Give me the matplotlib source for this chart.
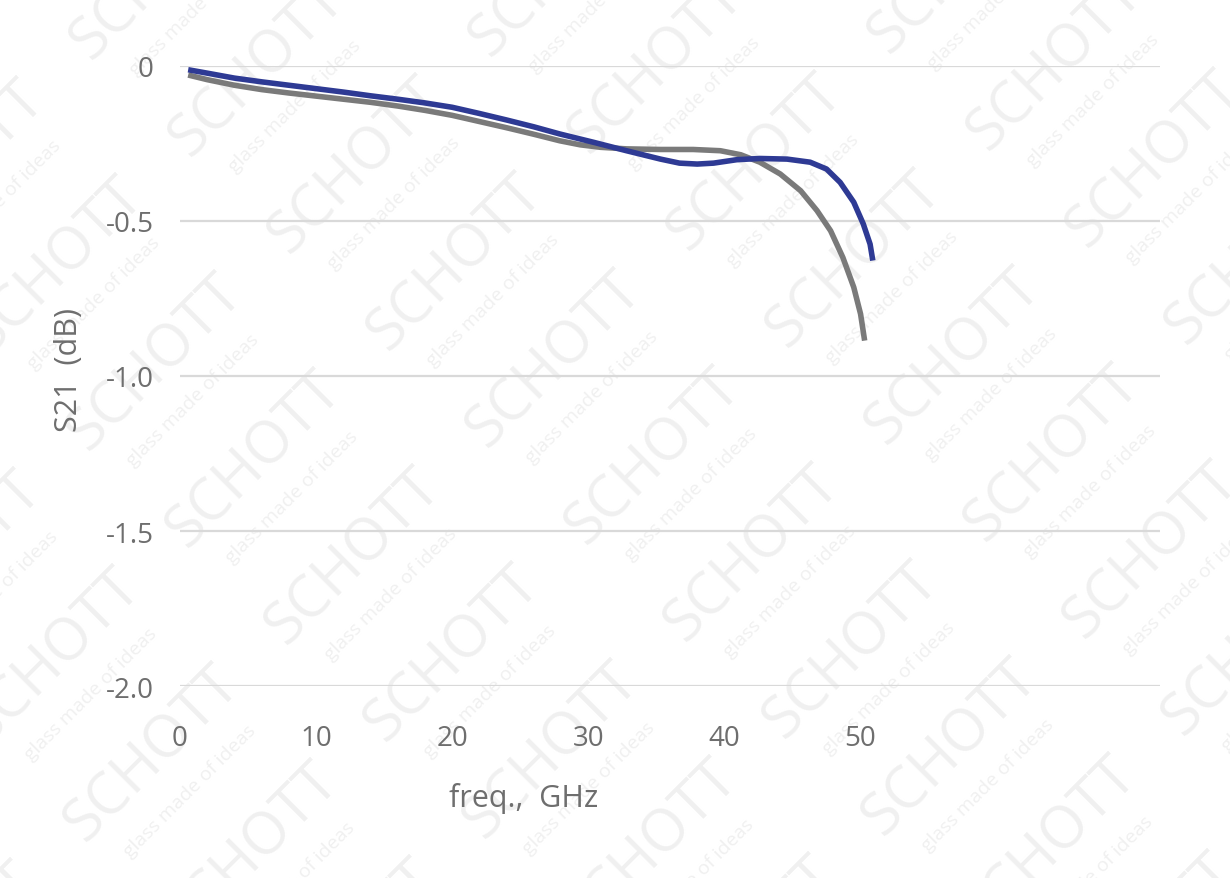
import matplotlib
matplotlib.use("Agg")
import matplotlib.pyplot as plt

# ---------------- data ----------------
x_ticks = [0, 10, 20, 30, 40, 50]
y_ticks = [0, -0.5, -1.0, -1.5, -2.0]
y_tick_labels = ["0", "-0.5", "-1.0", "-1.5", "-2.0"]

blue_freq = [0.6, 2.0, 4.0, 6.0, 8.0, 10.0, 12.0, 14.0, 16.0, 18.0, 20.0,
             22.0, 24.0, 26.0, 27.9, 30.4, 32.8, 35.3, 36.7, 38.0, 39.2,
             40.9, 42.6, 44.6, 46.3, 47.5, 48.5, 49.5, 50.2, 50.7, 50.9]
blue_s21 = [-0.013, -0.024, -0.040, -0.052, -0.063, -0.074, -0.085, -0.097,
            -0.108, -0.120, -0.134, -0.154, -0.175, -0.197, -0.220, -0.247,
            -0.274, -0.301, -0.314, -0.317, -0.314, -0.303, -0.299, -0.301,
            -0.311, -0.333, -0.376, -0.440, -0.510, -0.575, -0.628]

gray_freq = [0.6, 2.0, 4.0, 6.0, 8.0, 10.0, 12.0, 14.0, 16.0, 18.0, 20.0,
             22.0, 24.0, 26.0, 27.9, 29.4, 30.9, 32.8, 35.3, 37.7, 39.7,
             41.2, 42.6, 44.1, 45.6, 46.8, 47.8, 48.7, 49.5, 50.0, 50.3]
gray_s21 = [-0.030, -0.045, -0.063, -0.077, -0.088, -0.098, -0.108, -0.118,
            -0.130, -0.144, -0.160, -0.180, -0.200, -0.221, -0.242, -0.255,
            -0.263, -0.268, -0.270, -0.270, -0.274, -0.287, -0.311, -0.349,
            -0.403, -0.467, -0.532, -0.618, -0.714, -0.800, -0.886]

x_label = "freq.,  GHz"
y_label = "S21  (dB)"
watermark_big = "SCHOTT"
watermark_small = "glass made of ideas"

# ---------------- figure ----------------
W, H, DPI = 1230, 879, 100
plt.rcParams["font.family"] = ["Open Sans", "DejaVu Sans"]
fig = plt.figure(figsize=(W / DPI, H / DPI), dpi=DPI, facecolor="white")

# faint tiled watermark (drawn behind the axes)
wm_color = "#f0f0f0"
ax0, ay0 = 356, 167          # anchor of one tile (pixels from top-left)
a_vec = (99, 97)             # stacking step
b_vec = (300, -100)          # step along the reading direction
for i in range(-12, 14):
    for j in range(-6, 8):
        cx = ax0 + i * a_vec[0] + j * b_vec[0]
        cy = ay0 + i * a_vec[1] + j * b_vec[1]
        if -150 < cx < W + 150 and -150 < cy < H + 150:
            fig.text(cx / W, 1 - cy / H, watermark_big, fontsize=42,
                     color=wm_color, rotation=45,
                     ha="center", va="center", rotation_mode="anchor",
                     zorder=-5)
            sx, sy = cx + 38, cy + 36
            fig.text(sx / W, 1 - sy / H, watermark_small, fontsize=14,
                     color=wm_color, rotation=45,
                     ha="center", va="center", rotation_mode="anchor",
                     zorder=-5)

left, right = 180 / W, 1160 / W
bottom, top = 1 - 687.3 / H, 1 - 66.7 / H
ax = fig.add_axes([left, bottom, right - left, top - bottom])
ax.set_facecolor("none")

ax.plot(gray_freq, gray_s21, color="#7a7a7a", lw=4.0,
        solid_capstyle="butt", solid_joinstyle="round", clip_on=False, zorder=3)
ax.plot(blue_freq, blue_s21, color="#2e3a94", lw=4.0,
        solid_capstyle="butt", solid_joinstyle="round", clip_on=False, zorder=4)

ax.set_xlim(0, 72)
ax.set_ylim(-2.0, 0)
ax.set_xticks(x_ticks)
ax.set_yticks(y_ticks)
ax.set_yticklabels(y_tick_labels)

for s in ax.spines.values():
    s.set_visible(False)
ax.grid(axis="y", color="#d9d9d9", lw=1.6)
ax.grid(axis="x", visible=False)
ax.set_axisbelow(True)

tick_color = "#6e6e6e"
ax.tick_params(axis="both", length=0, labelsize=20, labelcolor=tick_color)
ax.tick_params(axis="y", pad=19)
ax.tick_params(axis="x", pad=27)

ax.set_xlabel(x_label, fontsize=22, color=tick_color)
ax.xaxis.set_label_coords((524 - 180) / 980, -(783 - 687.3) / 620.6)
ax.set_ylabel(y_label, fontsize=22, color=tick_color)
ax.yaxis.set_label_coords((84 - 180) / 980, (687.3 - 370) / 620.6)

fig.savefig("out.png", dpi=DPI, facecolor="white")
